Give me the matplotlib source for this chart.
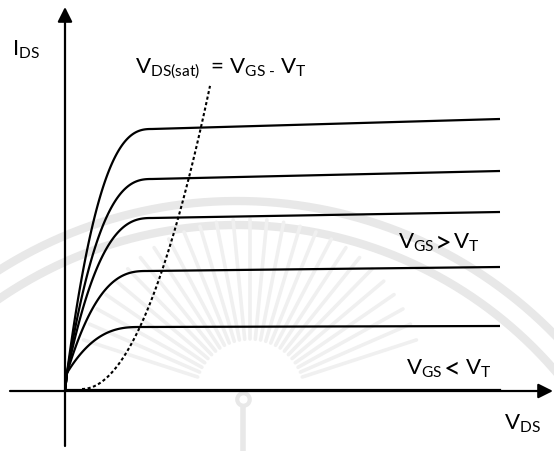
import numpy as np
import matplotlib.pyplot as plt

plt.rcParams['font.family'] = ['Lato', 'DejaVu Sans']
plt.rcParams['mathtext.fontset'] = 'custom'
plt.rcParams['mathtext.rm'] = 'Lato'
plt.rcParams['mathtext.it'] = 'Lato:italic'

# output characteristics, arbitrary units (origin at the axes crossing)
v_knee = [8.7, 8.7, 8.7, 8.2, 7.5]          # V_DS where each curve saturates
i_knee = [26.2, 21.2, 17.3, 12.0, 6.4]      # I_DS at the knee
i_end = [27.2, 22.0, 17.9, 12.4, 6.5]       # I_DS at the right end (channel-length modulation)
v_end = 43.5
v_start, i_start = 0.2, 1.8                  # curves fan out from just above the origin
i_cutoff = 0.1                               # V_GS < V_T: essentially no current

# V_DS(sat) locus (dashed parabola)
sat_v0, sat_i0 = 1.7, 0.2
sat_top_v = 14.5
sat_k = 0.185

fig = plt.figure(figsize=(5.54, 4.52), dpi=100)

# faint seal in the background (pixel coordinates)
bg = fig.add_axes([0, 0, 1, 1], zorder=0)
bg.set_xlim(0, 554)
bg.set_ylim(452, 0)
bg.axis('off')
wm = '#e8e8e8'
th = np.linspace(np.pi, 2 * np.pi, 400)
for r in (444, 420):
    bg.plot(237 + r * np.cos(th), 646 + r * np.sin(th), color=wm, lw=6)
for a in np.linspace(np.radians(198), np.radians(342), 27):
    bg.plot([250 + 55 * np.cos(a), 250 + 175 * np.cos(a)],
            [395 + 55 * np.sin(a), 395 + 175 * np.sin(a)],
            color='#f0f0f0', lw=2.6, solid_capstyle='round')
bg.plot([243, 243], [405, 452], color=wm, lw=4)
bg.plot(243, 400, 'o', color=wm, ms=9, mfc='white', mew=3)

ax = fig.add_axes([0, 0, 1, 1], zorder=1)
ax.patch.set_alpha(0)
ax.set_xlim(-6.5, 48.9)
ax.set_ylim(-6.0, 39.2)
ax.axis('off')

lw = 1.6
for vk, ik, ie in zip(v_knee, i_knee, i_end):
    t = np.linspace(0, 1, 80)
    v1 = v_start + (vk - v_start) * t
    i1 = i_start + (ik - i_start) * (1 - (1 - t) ** 2.6)
    v = np.r_[0, v1, v_end]
    i = np.r_[0, i1, ie]
    ax.plot(v, i, color='black', lw=lw, solid_capstyle='butt')

ax.plot([0.2, v_end], [i_cutoff, i_cutoff], color='black', lw=lw)

vs = np.linspace(sat_v0, sat_top_v, 100)
ax.plot(vs, sat_i0 + sat_k * (vs - sat_v0) ** 2, color='black', lw=1.5,
        linestyle=(0, (1.5, 1.2)))

# axes with arrows
arrow = dict(arrowstyle='-|>', color='black', lw=1.6, mutation_scale=22,
             shrinkA=0, shrinkB=0)
ax.annotate('', xy=(0, 38.4), xytext=(0, -5.5), arrowprops=arrow)
ax.annotate('', xy=(48.8, 0), xytext=(-5.5, 0), arrowprops=arrow)

fs = 16
ax.text(-5.3, 33.6, r'I$_{\mathrm{DS}}$', fontsize=fs, ha='left', va='baseline')
ax.text(7.0, 31.9, r'V$_{\mathrm{DS(sat)}}$  = V$_{\mathrm{GS}\ \text{-}}$ V$_{\mathrm{T}}$',
        fontsize=fs, ha='left', va='baseline')

# region labels; the comparison signs are set a size up
ax.text(33.3, 14.3, r'V$_{\mathrm{GS}}$', fontsize=fs, ha='left', va='baseline')
ax.text(37.0, 14.1, '>', fontsize=21, ha='left', va='baseline')
ax.text(38.8, 14.3, r'V$_{\mathrm{T}}$', fontsize=fs, ha='left', va='baseline')
ax.text(34.1, 1.7, r'V$_{\mathrm{GS}}$', fontsize=fs, ha='left', va='baseline')
ax.text(37.9, 1.5, '<', fontsize=21, ha='left', va='baseline')
ax.text(40.0, 1.7, r'V$_{\mathrm{T}}$', fontsize=fs, ha='left', va='baseline')
ax.text(43.9, -3.8, r'V$_{\mathrm{DS}}$', fontsize=fs, ha='left', va='baseline')

fig.savefig('out.png', dpi=100)
